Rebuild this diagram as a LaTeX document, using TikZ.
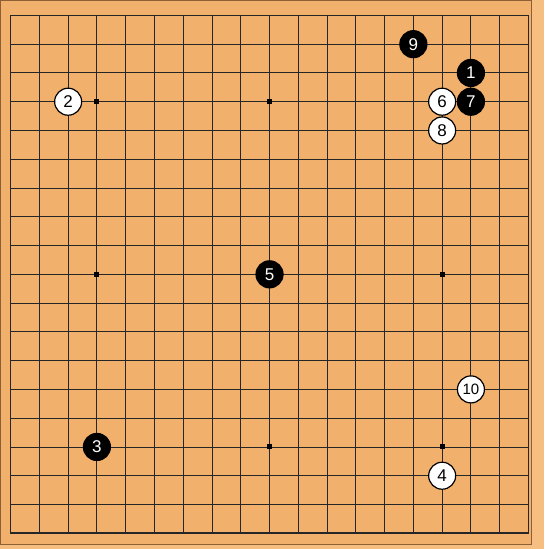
\documentclass[tikz,border=0pt]{standalone}
\usepackage{fontspec}
\setsansfont{Liberation Sans}
\usepackage{xcolor}
\usetikzlibrary{shapes.geometric}
\definecolor{kaya}{RGB}{241,176,108}
\definecolor{kayaedge}{RGB}{246,190,128}
\definecolor{rim}{RGB}{140,95,55}

\begin{document}
\begin{tikzpicture}[x=1pt,y=-1pt]
\useasboundingbox[fill=kayaedge] (0,0) rectangle (544,549);
\filldraw[fill=kaya, draw=rim, line width=0.8pt] (0,0) rectangle (531,544.5);
\begin{scope}[shift={(10.6,15.4)}, x=28.77pt, y=-28.77pt]
\foreach \i in {0,...,18} {
  \draw[line width=0.9pt, black!85] (\i,0) -- (\i,18);
  \draw[line width=0.9pt, black!85] (0,\i) -- (18,\i);
}
\draw[line width=1.6pt, black!85] (0,0) rectangle (18,18);
\begin{scope}[every node/.style={rectangle, fill=black, inner sep=0pt, minimum size=5pt}]
\node (STAR-3-3) at (3,3) {};
\node (STAR-9-3) at (9,3) {};
\node (STAR-15-3) at (15,3) {};
\node (STAR-3-9) at (3,9) {};
\node (STAR-15-9) at (15,9) {};
\node (STAR-9-15) at (9,15) {};
\node (STAR-15-15) at (15,15) {};
\end{scope}
\begin{scope}[every node/.style={circle, draw=black, line width=1.2pt, fill=black, text=white, inner sep=0pt, minimum size=27pt, font=\sffamily\fontsize{17}{17}\selectfont}]
\node (MOVE-1) at (16,2) {1};
\node (MOVE-3) at (3,15) {3};
\node (MOVE-5) at (9,9) {5};
\node (MOVE-7) at (16,3) {7};
\node (MOVE-9) at (14,1) {9};
\end{scope}
\begin{scope}[every node/.style={circle, draw=black, line width=1.2pt, fill=white, text=black, inner sep=0pt, minimum size=27pt, font=\sffamily\fontsize{17}{17}\selectfont}]
\node (MOVE-2) at (2,3) {2};
\node (MOVE-4) at (15,16) {4};
\node (MOVE-6) at (15,3) {6};
\node (MOVE-8) at (15,4) {8};
\node[font=\sffamily\fontsize{15}{15}\selectfont] (MOVE-10) at (16,13) {10};
\end{scope}
\end{scope}
\end{tikzpicture}
\end{document}
